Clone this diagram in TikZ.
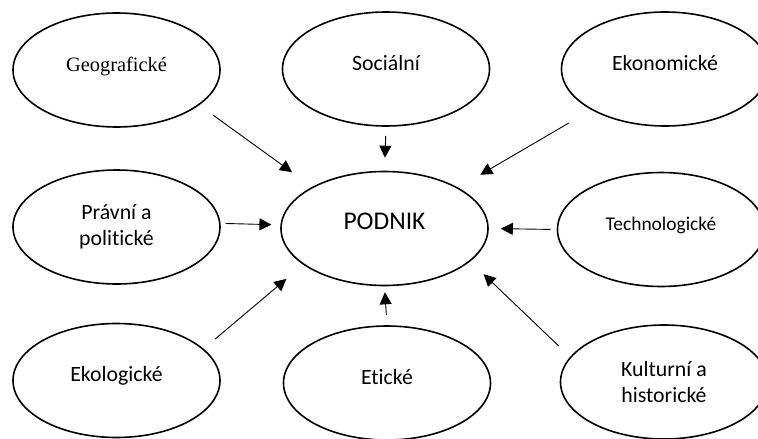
\documentclass[tikz,border=0pt]{standalone}
\usepackage{fontspec}
\setmainfont{Carlito}[Ligatures=NoCommon]
\newfontfamily\geofont{Liberation Serif}
\usetikzlibrary{shapes.geometric,arrows.meta}

\begin{document}
\begin{tikzpicture}[x=1pt,y=-1pt,
    fac/.style={ellipse,draw,line width=1.6pt,minimum width=207pt,minimum height=114pt,
      inner sep=0pt,font=\fontsize{21.8}{26}\selectfont},
    one/.style={text height=15pt,text depth=13pt},
    arr/.style={line width=0.9pt,-{Triangle[length=12pt,width=12pt]}}]
  \clip (0,0) rectangle (758,439);
  % outer factors
  \node[fac,one,font=\geofont\fontsize{20.4}{24}\selectfont](geo) at (116.5,70){Geografické};
  \node[fac,one](soc) at (386,69){Sociální};
  \node[fac,one](eko) at (665,69){Ekonomické};
  \node[fac,align=center](pra) at (116.5,227){Právní a\\politické};
  \node[fac,one,font=\fontsize{25.5}{30}\selectfont](pod) at (384.5,228.5){PODNIK};
  \node[fac,one,font=\fontsize{19.4}{23}\selectfont](tech) at (661,229.5){Technologické};
  \node[fac,one](eco) at (116.5,380.5){Ekologické};
  \node[fac,one](eti) at (387,383){Etické};
  \node[fac,align=center](kul) at (664,382){Kulturní a\\historické};
  \path (geo.-23) edge[arr,shorten <=17pt,shorten >=25pt](pod.150.5)
        (soc.south) edge[arr,shorten <=9pt,shorten >=13pt](pod.north)
        (eko.209.5) edge[arr,shorten <=26pt,shorten >=25.5pt](pod.29)
        (pra.2) edge[arr,shorten <=5pt,shorten >=9pt](pod.178)
        (tech.west) edge[arr,shorten <=6pt,shorten >=12pt](pod.east)
        (eco.20.8) edge[arr,shorten <=15pt,shorten >=22pt](pod.204.9)
        (eti.north) edge[arr,shorten <=10pt,shorten >=6pt](pod.south)
        (kul.165) edge[arr,shorten <=16pt,shorten >=18.5pt](pod.-21);
\end{tikzpicture}
\end{document}
